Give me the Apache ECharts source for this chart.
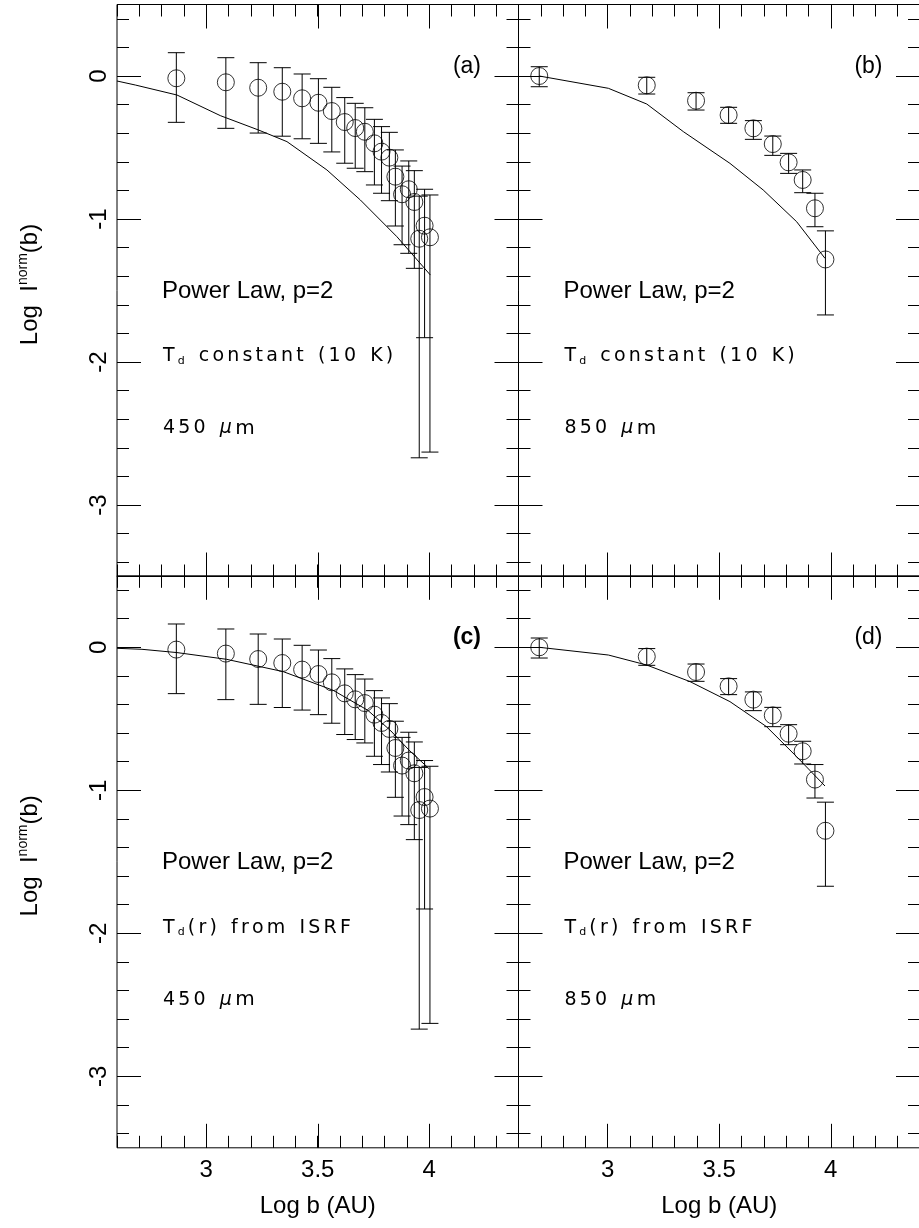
<!DOCTYPE html>
<html>
<head>
<meta charset="utf-8">
<script src="https://cdn.jsdelivr.net/npm/echarts@6/dist/echarts.min.js"></script>
<style>
html, body { margin: 0; padding: 0; background: #fff; }
#main { width: 919px; height: 1228px; }
</style>
</head>
<body>
<div id="main"></div>
<script>
// 450 um profile, panels (a) and (c)
var x450  = [2.866, 3.088, 3.233, 3.341, 3.430, 3.503, 3.563, 3.621, 3.668, 3.711, 3.754, 3.786, 3.821, 3.848, 3.878, 3.908, 3.933, 3.955, 3.979, 4.003];
var y450  = [-0.016, -0.044, -0.082, -0.110, -0.156, -0.187, -0.245, -0.322, -0.364, -0.390, -0.471, -0.529, -0.571, -0.704, -0.827, -0.792, -0.881, -1.138, -1.047, -1.128];
var hi450 = [0.163, 0.128, 0.093, 0.058, 0.014, -0.019, -0.079, -0.151, -0.191, -0.222, -0.303, -0.354, -0.394, -0.517, -0.630, -0.594, -0.662, -0.840, -0.792, -0.832];
var lo450 = [-0.324, -0.366, -0.399, -0.421, -0.439, -0.471, -0.531, -0.610, -0.645, -0.669, -0.762, -0.820, -0.872, -1.049, -1.180, -1.240, -1.345, -2.670, -1.830, -2.630];

// 850 um profile, panels (b) and (d)
var x850  = [2.693, 3.175, 3.396, 3.542, 3.653, 3.740, 3.811, 3.874, 3.929, 3.976];
var y850  = [0.000, -0.065, -0.173, -0.273, -0.366, -0.476, -0.604, -0.727, -0.925, -1.283];
var hi850 = [0.065, -0.009, -0.117, -0.219, -0.312, -0.420, -0.541, -0.657, -0.820, -1.083];
var lo850 = [-0.075, -0.126, -0.238, -0.331, -0.443, -0.555, -0.681, -0.816, -1.054, -1.671];

// model curves
var modelAx = [2.6, 2.682, 2.869, 3.063, 3.235, 3.362, 3.541, 3.691, 3.855, 4.005];
var modelAy = [-0.035, -0.063, -0.133, -0.277, -0.378, -0.459, -0.657, -0.867, -1.124, -1.392];
var modelBx = [2.693, 3.003, 3.175, 3.339, 3.548, 3.697, 3.847, 3.974];
var modelBy = [0.000, -0.086, -0.196, -0.389, -0.611, -0.797, -1.019, -1.275];
var modelCx = [2.6, 2.712, 2.869, 3.091, 3.345, 3.568, 3.724, 3.828, 3.910, 4.000];
var modelCy = [-0.007, -0.014, -0.037, -0.084, -0.170, -0.300, -0.440, -0.585, -0.720, -0.850];
var modelDx = [2.693, 3.003, 3.175, 3.369, 3.548, 3.712, 3.847, 3.974];
var modelDy = [0.000, -0.054, -0.124, -0.240, -0.380, -0.555, -0.765, -0.970];

// panel texts
var panelTags = ['(a)', '(b)', '(c)', '(d)'];
var tdText = ['constant', 'constant', 'isrf', 'isrf'];
var waveText = ['450', '850', '450', '850'];

// panel layout (pixels)
var W = 401.5, H = 572;
var PX = W / 1.8, PY = H / 4;
var lefts = [117, 518.5, 117, 518.5];
var tops = [4.5, 4.5, 575.8, 575.8];

var FONT = 'Liberation Sans';
var grid = [], xAxis = [], yAxis = [], series = [], graphic = [];

function zip(a, b) {
    var out = [];
    for (var i = 0; i < a.length; i++) out.push([a[i], b[i]]);
    return out;
}

function tickAxis(gridIndex, pos, min, max, interval, len, label) {
    return {
        gridIndex: gridIndex, type: 'value', position: pos,
        min: min, max: max, interval: interval,
        axisLine: {show: false},
        axisTick: {show: true, inside: true, length: len, lineStyle: {color: '#000', width: 1}},
        axisLabel: label || {show: false},
        splitLine: {show: false}
    };
}

function hiddenAxis(gridIndex) {
    return {gridIndex: gridIndex, type: 'value', show: false, min: 0, max: 1};
}

// stroke-font style text, every glyph spread out
function spaced(str) {
    return str.split('').map(function (c) {
        return '{' + (c === ' ' ? 'sp' : 'c') + '|' + c + '}';
    }).join('');
}

var hershey = {
    c: {fontFamily: 'DejaVu Sans', fontSize: 19, lineHeight: 20, padding: [0, 3.2, 0, 0], fill: '#000'},
    sp: {fontFamily: 'DejaVu Sans', fontSize: 19, lineHeight: 20, width: 11},
    sub: {fontFamily: 'DejaVu Sans', fontSize: 11, lineHeight: 20, verticalAlign: 'bottom', padding: [0, 3, 0, 0], fill: '#000'},
    mu: {fontFamily: 'DejaVu Sans', fontSize: 19, lineHeight: 20, fontStyle: 'italic', padding: [0, 3.2, 0, 0], fill: '#000'},
    m: {fontFamily: 'DejaVu Sans', fontSize: 20, lineHeight: 20, fill: '#000'}
};

function addPanel(p) {
    var left = lefts[p], top = tops[p];
    var bottomRow = p >= 2, leftCol = p % 2 === 0;
    var xs = [x450, x850, x450, x850][p];
    var ys = [y450, y850, y450, y850][p];
    var his = [hi450, hi850, hi450, hi850][p];
    var los = [lo450, lo850, lo450, lo850][p];
    var mx = [modelAx, modelBx, modelCx, modelDx][p];
    var my = [modelAy, modelBy, modelCy, modelDy][p];

    // data grid with the frame
    var g0 = grid.length;
    grid.push({left: left, top: top, width: W, height: H, show: true,
        borderColor: '#000', borderWidth: 1, backgroundColor: 'rgba(0,0,0,0)', outerBoundsMode: 'none'});
    var xi = xAxis.length;
    xAxis.push({
        gridIndex: g0, type: 'value', min: 2.6, max: 4.4, position: 'bottom',
        axisLine: {show: false}, axisTick: {show: false}, axisLabel: {show: false}, splitLine: {show: false},
        name: bottomRow ? 'Log b (AU)' : '', nameLocation: 'middle', nameGap: 47,
        nameTextStyle: {fontSize: 24, fontFamily: FONT, color: '#000'}
    });
    var yi = yAxis.length;
    yAxis.push({
        gridIndex: g0, type: 'value', min: -3.5, max: 0.5,
        axisLine: {show: false}, axisTick: {show: false}, axisLabel: {show: false}, splitLine: {show: false}
    });
    // minor x ticks every 0.1
    xAxis.push(tickAxis(g0, 'bottom', 2.6, 4.4, 0.1, 12));
    xAxis.push(tickAxis(g0, 'top', 2.6, 4.4, 0.1, 12));

    // major x ticks every 0.5 (grid starts at 3.0)
    var g1 = grid.length;
    grid.push({left: left + 0.4 * PX, top: top, width: W - 0.4 * PX, height: H, outerBoundsMode: 'none'});
    yAxis.push(hiddenAxis(g1));
    xAxis.push(tickAxis(g1, 'bottom', 3, 4.4, 0.5, 24, {
        show: bottomRow, showMinLabel: true, showMaxLabel: false, margin: 11,
        fontSize: 24, fontFamily: FONT, color: '#000'
    }));
    xAxis.push(tickAxis(g1, 'top', 3, 4.4, 0.5, 24));

    // major y ticks every 1 (grid ends at -3)
    var g2 = grid.length;
    grid.push({left: left, top: top, width: W, height: 3.5 * PY, outerBoundsMode: 'none'});
    xAxis.push(hiddenAxis(g2));
    yAxis.push(tickAxis(g2, 'left', -3, 0.5, 1, 24, {
        show: leftCol, rotate: 90, showMinLabel: true, showMaxLabel: false, margin: 6,
        fontSize: 24, fontFamily: FONT, color: '#000'
    }));
    yAxis.push(tickAxis(g2, 'right', -3, 0.5, 1, 24));

    // minor y ticks every 0.2 (grid ends at -3.4)
    var g3 = grid.length;
    grid.push({left: left, top: top, width: W, height: 3.9 * PY, outerBoundsMode: 'none'});
    xAxis.push(hiddenAxis(g3));
    yAxis.push(tickAxis(g3, 'left', -3.4, 0.5, 0.2, 12));
    yAxis.push(tickAxis(g3, 'right', -3.4, 0.5, 0.2, 12));

    // model
    series.push({
        type: 'line', xAxisIndex: xi, yAxisIndex: yi, data: zip(mx, my),
        showSymbol: false, symbol: 'none', clip: true, silent: true,
        lineStyle: {color: '#000', width: 1}
    });
    // error bars
    series.push({
        type: 'custom', xAxisIndex: xi, yAxisIndex: yi, silent: true, clip: true,
        data: xs.map(function (v, i) { return [v, los[i], his[i]]; }),
        encode: {x: 0, y: [1, 2]},
        renderItem: function (params, api) {
            var top = api.coord([api.value(0), api.value(2)]);
            var bot = api.coord([api.value(0), api.value(1)]);
            var hw = 8.5;
            var st = {stroke: '#000', lineWidth: 1};
            return {type: 'group', children: [
                {type: 'line', shape: {x1: top[0], y1: top[1], x2: bot[0], y2: bot[1]}, style: st},
                {type: 'line', shape: {x1: top[0] - hw, y1: top[1], x2: top[0] + hw, y2: top[1]}, style: st},
                {type: 'line', shape: {x1: bot[0] - hw, y1: bot[1], x2: bot[0] + hw, y2: bot[1]}, style: st}
            ]};
        }
    });
    // observed points
    series.push({
        type: 'scatter', xAxisIndex: xi, yAxisIndex: yi, data: zip(xs, ys),
        symbol: 'circle', symbolSize: 17, silent: true,
        itemStyle: {color: 'rgba(0,0,0,0)', borderColor: '#000', borderWidth: 1}
    });

    // texts inside the panel
    graphic.push({
        type: 'text', x: left + 364, y: top + 62,
        style: {text: panelTags[p], fill: '#000', fontSize: 23, fontFamily: FONT,
            fontWeight: p === 2 ? 'bold' : 'normal', align: 'right', verticalAlign: 'middle'}
    });
    graphic.push({
        type: 'text', x: left + 45, y: top + 287,
        style: {text: 'Power Law, p=2', fill: '#000', fontSize: 24, fontFamily: FONT, align: 'left', verticalAlign: 'middle'}
    });
    var tdLine = tdText[p] === 'constant'
        ? '{c|T}{sub|d}{sp| }' + spaced('constant (10 K)')
        : '{c|T}{sub|d}' + spaced('(r) from ISRF');
    graphic.push({
        type: 'text', x: left + 46, y: top + 352,
        style: {text: tdLine, rich: hershey, align: 'left', verticalAlign: 'middle'}
    });
    graphic.push({
        type: 'text', x: left + 46, y: top + 424,
        style: {text: spaced(waveText[p] + ' ') + '{mu|\u03bc}{m|m}', rich: hershey, align: 'left', verticalAlign: 'middle'}
    });

    // y axis title
    if (leftCol) {
        graphic.push({
            type: 'text', x: 30, y: top + 280, rotation: Math.PI / 2,
            style: {
                text: '{n|Log  I}{s|norm}{n|(b)}', align: 'center', verticalAlign: 'middle',
                rich: {
                    n: {fontSize: 24, fontFamily: FONT, fill: '#000', lineHeight: 28},
                    s: {fontSize: 14, fontFamily: FONT, fill: '#000', lineHeight: 28, verticalAlign: 'top'}
                }
            }
        });
    }
}

for (var p = 0; p < 4; p++) addPanel(p);

var chart = echarts.init(document.getElementById('main'));
chart.setOption({
    animation: false,
    backgroundColor: '#fff',
    grid: grid,
    xAxis: xAxis,
    yAxis: yAxis,
    series: series,
    graphic: graphic
});
</script>
</body>
</html>
